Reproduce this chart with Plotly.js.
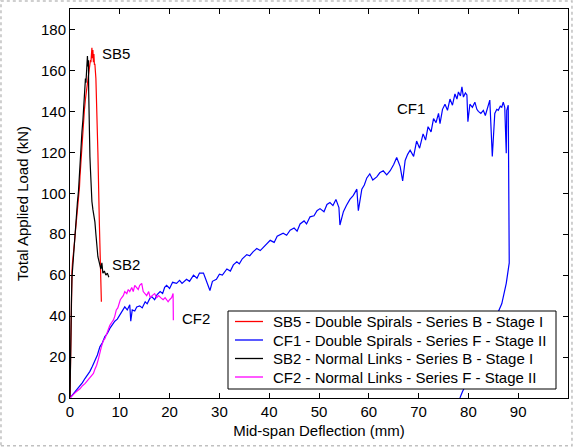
<!DOCTYPE html>
<html>
<head>
<meta charset="utf-8">
<script src="https://cdn.plot.ly/plotly-3.0.1.min.js"></script>
<style>html,body{margin:0;padding:0;background:#fff;}#chart{width:577px;height:447px;}</style>
</head>
<body>
<div id="chart"></div>
<script>
// SB5 - Double Spirals - Series B - Stage I (red)
const sb5X = [0, 0.1, 0.15, 0.2, 0.25, 0.3, 0.4, 0.5, 0.7, 0.9, 1.0, 1.2, 1.4, 1.5, 1.7, 1.9, 2.0, 2.1, 2.3, 2.4, 2.6, 2.8, 2.9, 3.1, 3.3, 3.5, 3.6, 3.8, 3.9, 4.0, 4.1, 4.2, 4.3, 4.4, 4.5, 4.6, 4.7, 4.8, 4.9, 5.0, 5.2, 5.35, 5.6, 5.9, 6.1, 6.3];
const sb5Y = [0, 15, 30, 45, 52, 58, 62, 66, 70, 76, 79, 84, 90, 93, 99, 103, 108, 112, 119, 125, 130, 136, 141, 146, 150, 153, 156, 158, 161, 163, 165, 164, 168, 171, 166, 170, 164, 168, 163, 163, 156, 145, 120, 85, 62, 47];

// CF1 - Double Spirals - Series F - Stage II (blue)
const cf1X = [0, 0.5, 1, 1.5, 2, 2.5, 3, 3.5, 4, 4.5, 5, 5.5, 6, 6.5, 7, 7.5, 8, 8.5, 9, 9.5, 10, 10.5, 11, 11.5, 12, 12.2, 12.5, 13, 13.4, 14, 14.5, 15.1, 15.5, 16, 16.4, 17, 17.5, 18.1, 18.6, 19, 19.4, 20, 20.6, 21.4, 22, 22.5, 23.4, 24, 24.8, 25.5, 26, 26.8, 27.4, 27.8, 28.1, 28.6, 29.4, 30, 30.6, 31.5, 32.2, 32.8, 33.5, 34, 34.6, 35.5, 36.1, 36.8, 37.5, 38.2, 39, 40.2, 41, 41.6, 42.8, 43.5, 44.2, 45, 45.6, 46.2, 47, 47.5, 48.2, 49, 49.6, 50.2, 51, 51.6, 52.2, 52.8, 53.4, 54.0, 54.2, 54.9, 55.5, 56.2, 56.9, 57.6, 57.9, 58.6, 59.1, 59.6, 60.2, 60.8, 61.6, 62.2, 62.9, 63.6, 64.3, 65.0, 65.6, 66.3, 66.8, 67.3, 67.8, 68.3, 69.0, 69.6, 70.2, 70.9, 71.4, 71.9, 72.5, 73.0, 73.5, 74.0, 74.3, 74.8, 75.3, 75.8, 76.3, 76.8, 77.3, 77.7, 78.0, 78.4, 78.7, 79.0, 79.4, 79.7, 79.9, 80.3, 80.8, 81.3, 81.7, 82.0, 82.5, 83.0, 83.4, 83.7, 84.0, 84.3, 84.8, 85.3, 85.7, 86.0, 86.4, 86.7, 87.0, 87.3, 87.6, 87.7, 88.0, 88.05, 88.1, 88.2, 87.6, 86.7, 84.0, 81.0, 78.8, 78.3];
const cf1Y = [0, 1.5, 3, 4, 5.5, 7.5, 9.5, 11, 13, 15.5, 18.5, 21, 25, 27, 30, 31.5, 34, 36, 37.5, 38.5, 40.5, 42, 44.5, 43, 45.5, 37.5, 43, 42.5, 44.5, 45, 44, 47, 46, 48.5, 49.5, 48, 50.5, 52, 51, 54, 55, 53.5, 56.5, 56, 57.5, 56, 58, 57, 60, 58.5, 61, 61, 57, 55, 52.5, 57, 58, 60.5, 60, 63, 62, 65, 66.5, 65.5, 68, 70, 69.5, 71.5, 73, 72, 74, 77, 76, 79, 80.5, 79.5, 82, 83, 81.5, 85, 86.5, 85, 88.5, 89, 91.5, 92.5, 91, 94.5, 95.5, 94, 97, 93, 84.5, 91, 94, 97, 99, 102, 91.5, 102, 104, 107.5, 109.5, 106.5, 108, 110, 111, 109, 111, 114, 117.5, 113, 106, 116, 119, 121, 118, 125.5, 122, 129, 126, 132.5, 130, 136.5, 134.5, 139, 134, 141, 143.5, 140.5, 146, 143, 148.5, 146, 149.5, 147.5, 152, 147, 149, 148, 135, 143.5, 142, 144.5, 141, 140, 139, 140.5, 138, 141, 143, 145.5, 118, 139, 141, 140.5, 142.5, 142, 144.5, 142, 119.5, 140.5, 143, 125, 124, 66, 56, 46, 31, 14, 3, 0];

// SB2 - Normal Links - Series B - Stage I (black)
const sb2X = [0, 0.05, 0.1, 0.15, 0.2, 0.3, 0.4, 0.6, 0.8, 0.9, 1.1, 1.3, 1.4, 1.5, 1.7, 1.8, 2.0, 2.1, 2.3, 2.4, 2.6, 2.7, 2.9, 3.0, 3.1, 3.2, 3.3, 3.4, 3.5, 3.6, 3.7, 3.75, 3.8, 3.85, 3.9, 4.0, 4.1, 4.2, 4.3, 4.4, 4.6, 4.8, 5.0, 5.2, 5.4, 5.6, 5.8, 6.0, 6.2, 6.4, 6.6, 6.9, 7.2, 7.5, 7.8];
const sb2Y = [0, 12, 25, 33, 40, 49, 59, 66, 72, 79, 84, 90, 92, 96, 101, 106, 112, 118, 124, 130, 136, 141, 148, 151, 156, 154, 160, 164, 167, 162, 165, 150, 135, 125, 122, 118, 112, 104, 98, 96, 92, 89, 86, 80, 74, 69, 67, 65, 63, 66, 61, 62, 60, 61, 59];

// CF2 - Normal Links - Series F - Stage II (magenta)
const cf2X = [0, 0.5, 1.0, 1.5, 2.0, 2.5, 3.0, 3.5, 4.0, 4.7, 5.0, 5.35, 5.7, 6.0, 6.3, 6.7, 7.0, 7.4, 7.7, 8.0, 8.4, 8.7, 9.0, 9.3, 9.6, 9.8, 10.1, 10.4, 10.7, 11.0, 11.4, 11.7, 12.0, 12.4, 12.7, 13.0, 13.4, 13.7, 14.0, 14.4, 14.7, 15.1, 15.4, 15.8, 16.1, 16.5, 17.0, 17.4, 17.8, 18.2, 18.7, 19.1, 19.5, 19.7, 20.0, 20.4, 20.7, 20.75];
const cf2Y = [0, 1.5, 2.5, 3.5, 4.5, 6, 7, 8.5, 10, 12, 14, 16, 19, 23, 25, 28, 29, 31.5, 34, 35.5, 37, 38, 40, 43, 44, 46, 48, 49, 50, 52, 51, 53, 52, 54, 52, 55, 54, 53, 55, 56, 52, 51, 50, 52, 49, 50, 51, 49, 50, 49, 48, 49, 48, 47, 48, 49, 51, 38];

const traceNames = [
  'SB5 - Double Spirals - Series B - Stage I',
  'CF1 - Double Spirals - Series F - Stage II',
  'SB2 - Normal Links - Series B - Stage I',
  'CF2 - Normal Links - Series F - Stage II'
];
const traceColors = ['rgb(255,0,0)', 'rgb(0,0,255)', 'rgb(0,0,0)', 'rgb(255,0,255)'];
const xTicks = [0, 10, 20, 30, 40, 50, 60, 70, 80, 90, 100];
const yTicks = [0, 20, 40, 60, 80, 100, 120, 140, 160, 180];
const labelText = ['SB5', 'SB2', 'CF2', 'CF1'];
const labelX = [6.0, 8.1, 22.1, 65.2];
const labelY = [168.2, 65.2, 38.6, 141.2];

const font = 'Liberation Sans, Arial, sans-serif';
const series = [[sb5X, sb5Y], [cf1X, cf1Y], [sb2X, sb2Y], [cf2X, cf2Y]];
const traces = series.map((s, i) => ({
  x: s[0], y: s[1], name: traceNames[i], type: 'scatter', mode: 'lines',
  line: {color: traceColors[i], width: 1.2}, showlegend: false
}));

// legend box drawn in paper coordinates (plot area: 70..568 px wide, 9..398 px tall)
const W = 498, H = 389, L = 70, B = 398;
const px = v => (v - L) / W;
const py = v => (B - v) / H;
const legendRowsPx = [321.5, 340, 358.5, 377];

const axisCommon = {
  showline: true, linecolor: '#000', linewidth: 1, mirror: 'ticks',
  ticks: 'inside', ticklen: 5, tickcolor: '#000', tickwidth: 1,
  showgrid: false, zeroline: false,
  tickfont: {family: font, size: 15, color: '#000'}
};

const legendLines = legendRowsPx.map((r, i) => ({
  type: 'line', xref: 'paper', yref: 'paper',
  x0: px(235), x1: px(263), y0: py(r), y1: py(r),
  line: {color: traceColors[i], width: 1.3}, layer: 'above'
}));

const shapes = [{
  type: 'rect', xref: 'paper', yref: 'paper',
  x0: -0.1386, x1: 1.008, y0: -0.123, y1: 1.0205,
  line: {color: '#c0c0c0', width: 1.5, dash: 'dot'}, layer: 'below'
}, {
  type: 'rect', xref: 'paper', yref: 'paper',
  x0: px(228), x1: px(556), y0: py(389), y1: py(311),
  line: {color: '#000', width: 1}, fillcolor: '#fff', layer: 'above'
}].concat(legendLines);

const annotations = labelText.map((t, i) => ({
  x: labelX[i], y: labelY[i], xref: 'x', yref: 'y', text: t, showarrow: false,
  xanchor: 'left', yanchor: 'middle', font: {family: font, size: 15, color: '#000'}
})).concat(legendRowsPx.map((r, i) => ({
  x: px(271), y: py(r), xref: 'paper', yref: 'paper', text: traceNames[i], showarrow: false,
  xanchor: 'left', yanchor: 'middle', font: {family: font, size: 15, color: '#000'}
})));

const layout = {
  width: 577, height: 447,
  margin: {l: 70, r: 9, t: 9, b: 49, pad: 0},
  paper_bgcolor: '#fff', plot_bgcolor: '#fff',
  font: {family: font, size: 15, color: '#000'},
  xaxis: Object.assign({}, axisCommon, {
    range: [0, 100], tickmode: 'array', tickvals: xTicks, ticktext: xTicks.map(String),
    title: {text: 'Mid-span Deflection (mm)', font: {family: font, size: 15, color: '#000'}, standoff: 6}
  }),
  yaxis: Object.assign({}, axisCommon, {
    range: [0, 190], tickmode: 'array', tickvals: yTicks, ticktext: yTicks.map(String),
    title: {text: 'Total Applied Load (kN)', font: {family: font, size: 15, color: '#000'}, standoff: 8}
  }),
  showlegend: false,
  annotations: annotations,
  shapes: shapes
};

Plotly.newPlot('chart', traces, layout, {displayModeBar: false, staticPlot: true});
</script>
</body>
</html>
